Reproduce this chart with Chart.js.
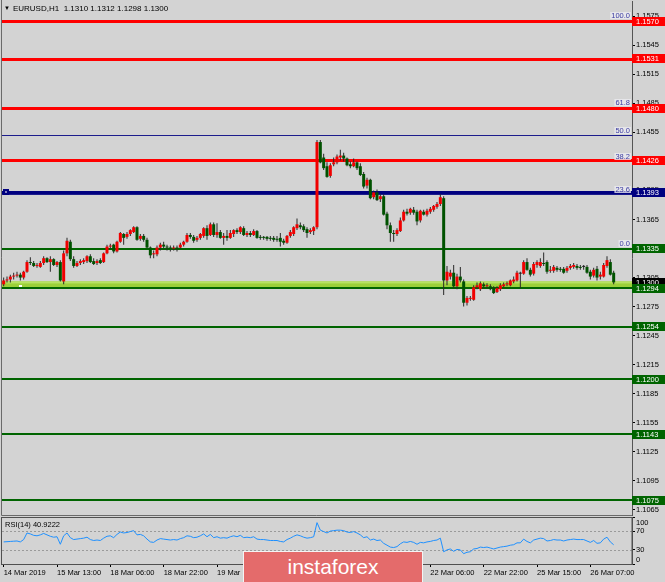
<!DOCTYPE html>
<html>
<head>
<meta charset="utf-8">
<script src="https://cdn.jsdelivr.net/npm/chart.js@4/dist/chart.umd.min.js"></script>
<style>
html,body{margin:0;padding:0;background:#d3d3d3;}
#wrap{position:relative;width:665px;height:582px;overflow:hidden;background:#d3d3d3;}
#c1{position:absolute;left:0;top:0;}
#c2{position:absolute;left:0;top:516px;}
#title{position:absolute;left:4px;top:3px;font:8px 'Liberation Sans',Arial,sans-serif;color:#000;white-space:pre;line-height:10px;}
#title .tri{font-size:6px;vertical-align:1px;margin-right:3px;}
#wm{position:absolute;left:243px;top:551px;width:178px;height:40px;background:#e46b6b;border:1px solid #f4f4f4;color:#fff;font:21px 'Liberation Sans',Arial,sans-serif;text-align:center;line-height:30px;}
</style>
</head>
<body>
<div id="wrap">
<canvas id="c1" width="665" height="516"></canvas>
<canvas id="c2" width="665" height="66"></canvas>
<div id="title"><span class="tri">▼</span>EURUSD,H1  1.1310 1.1312 1.1298 1.1300</div>
<div id="wm">instaforex</div>
</div>
<script>
// ---------- data ----------
const opens = [
1.1298,1.1302,1.1303,1.1306,1.1307,1.1308,1.1305,1.1311,1.1321,1.1320,
1.1317,1.1316,1.1320,1.1325,1.1321,1.1324,1.1318,1.1321,1.1301,1.1330,
1.1342,1.1324,1.1317,1.1320,1.1321,1.1322,1.1327,1.1322,1.1320,1.1323,
1.1321,1.1330,1.1337,1.1339,1.1332,1.1342,1.1350,1.1347,1.1350,1.1352,
1.1357,1.1345,1.1348,1.1344,1.1336,1.1329,1.1329,1.1336,1.1339,1.1337,
1.1336,1.1335,1.1336,1.1336,1.1339,1.1342,1.1349,1.1347,1.1344,1.1346,
1.1348,1.1356,1.1349,1.1360,1.1349,1.1352,1.1346,1.1348,1.1346,1.1350,
1.1354,1.1352,1.1356,1.1349,1.1351,1.1349,1.1353,1.1347,1.1347,1.1347,
1.1346,1.1346,1.1345,1.1346,1.1343,1.1341,1.1348,1.1350,1.1356,1.1359,
1.1358,1.1355,1.1352,1.1353,1.1357,1.1445,1.1429,1.1420,1.1410,1.1422,
1.1424,1.1429,1.1431,1.1428,1.1422,1.1420,1.1424,1.1420,1.1412,1.1400,
1.1406,1.1388,1.1393,1.1386,1.1389,1.1371,1.1359,1.1351,1.1350,1.1353,
1.1364,1.1373,1.1372,1.1375,1.1373,1.1364,1.1373,1.1370,1.1373,1.1375,
1.1378,1.1381,1.1387,1.1302,1.1306,1.1310,1.1296,1.1306,1.1301,1.1279,
1.1283,1.1282,1.1295,1.1293,1.1298,1.1296,1.1296,1.1294,1.1290,1.1293,
1.1296,1.1298,1.1297,1.1301,1.1302,1.1309,1.1309,1.1321,1.1313,1.1309,
1.1318,1.1317,1.1320,1.1321,1.1312,1.1312,1.1315,1.1314,1.1314,1.1312,
1.1315,1.1316,1.1317,1.1316,1.1316,1.1316,1.1311,1.1307,1.1314,1.1306,
1.1306,1.1317,1.1321,1.1310];
const highs = [
1.1305,1.1306,1.1308,1.1310,1.1311,1.1310,1.1312,1.1323,1.1326,1.1322,
1.1320,1.1322,1.1327,1.1326,1.1327,1.1325,1.1322,1.1323,1.1333,1.1346,
1.1344,1.1327,1.1322,1.1324,1.1325,1.1328,1.1329,1.1325,1.1324,1.1325,
1.1331,1.1339,1.1340,1.1340,1.1343,1.1352,1.1351,1.1352,1.1355,1.1358,
1.1358,1.1350,1.1350,1.1346,1.1337,1.1333,1.1338,1.1341,1.1342,1.1339,
1.1338,1.1338,1.1338,1.1341,1.1343,1.1351,1.1351,1.1349,1.1348,1.1351,
1.1357,1.1359,1.1362,1.1362,1.1361,1.1354,1.1351,1.1354,1.1354,1.1355,
1.1356,1.1358,1.1358,1.1353,1.1353,1.1355,1.1354,1.1349,1.1348,1.1348,
1.1348,1.1348,1.1348,1.1351,1.1345,1.1349,1.1354,1.1358,1.1366,1.1362,
1.1360,1.1357,1.1356,1.1358,1.1447,1.1447,1.1433,1.1424,1.1423,1.1429,
1.1432,1.1437,1.1434,1.1429,1.1425,1.1428,1.1425,1.1423,1.1414,1.1408,
1.1407,1.1395,1.1396,1.1391,1.1391,1.1373,1.1362,1.1354,1.1356,1.1367,
1.1375,1.1376,1.1377,1.1378,1.1375,1.1375,1.1375,1.1376,1.1378,1.1380,
1.1383,1.1391,1.1389,1.1317,1.1313,1.1318,1.1309,1.1316,1.1303,1.1286,
1.1286,1.1297,1.1300,1.1301,1.1300,1.1299,1.1298,1.1296,1.1296,1.1299,
1.1300,1.1301,1.1303,1.1306,1.1312,1.1311,1.1323,1.1325,1.1315,1.1321,
1.1323,1.1325,1.1331,1.1323,1.1317,1.1318,1.1317,1.1316,1.1316,1.1317,
1.1319,1.1320,1.1319,1.1318,1.1318,1.1318,1.1313,1.1315,1.1317,1.1311,
1.1320,1.1327,1.1324,1.1312];
const lows = [
1.1296,1.1300,1.1300,1.1303,1.1305,1.1302,1.1303,1.1310,1.1318,1.1316,
1.1315,1.1315,1.1318,1.1320,1.1311,1.1317,1.1316,1.1301,1.1298,1.1327,
1.1322,1.1315,1.1316,1.1318,1.1319,1.1320,1.1320,1.1318,1.1318,1.1319,
1.1320,1.1329,1.1335,1.1330,1.1331,1.1341,1.1339,1.1345,1.1348,1.1351,
1.1343,1.1343,1.1342,1.1335,1.1325,1.1325,1.1327,1.1333,1.1335,1.1333,
1.1332,1.1333,1.1332,1.1335,1.1337,1.1341,1.1345,1.1341,1.1342,1.1344,
1.1346,1.1344,1.1348,1.1347,1.1346,1.1345,1.1339,1.1343,1.1345,1.1347,
1.1350,1.1350,1.1348,1.1347,1.1347,1.1348,1.1345,1.1344,1.1344,1.1343,
1.1343,1.1342,1.1342,1.1337,1.1339,1.1340,1.1346,1.1348,1.1354,1.1355,
1.1352,1.1346,1.1350,1.1349,1.1355,1.1423,1.1416,1.1408,1.1408,1.1420,
1.1422,1.1426,1.1425,1.1420,1.1418,1.1419,1.1416,1.1410,1.1397,1.1397,
1.1386,1.1386,1.1384,1.1383,1.1369,1.1355,1.1342,1.1342,1.1348,1.1352,
1.1363,1.1369,1.1370,1.1370,1.1359,1.1362,1.1369,1.1368,1.1371,1.1373,
1.1376,1.1379,1.1287,1.1297,1.1303,1.1294,1.1293,1.1300,1.1275,1.1276,
1.1281,1.1281,1.1293,1.1291,1.1294,1.1294,1.1292,1.1288,1.1289,1.1291,
1.1295,1.1296,1.1296,1.1299,1.1301,1.1294,1.1308,1.1312,1.1306,1.1307,
1.1315,1.1315,1.1317,1.1309,1.1310,1.1310,1.1311,1.1311,1.1309,1.1310,
1.1313,1.1314,1.1313,1.1313,1.1313,1.1309,1.1303,1.1305,1.1302,1.1303,
1.1305,1.1315,1.1307,1.1298];
const closes = [
1.1302,1.1303,1.1306,1.1307,1.1308,1.1305,1.1311,1.1321,1.1320,1.1317,
1.1318,1.1320,1.1325,1.1321,1.1324,1.1318,1.1321,1.1302,1.1330,1.1343,
1.1324,1.1317,1.1320,1.1322,1.1323,1.1327,1.1321,1.1319,1.1322,1.1320,
1.1330,1.1337,1.1338,1.1332,1.1342,1.1351,1.1346,1.1350,1.1354,1.1357,
1.1344,1.1348,1.1344,1.1336,1.1328,1.1330,1.1336,1.1339,1.1337,1.1336,
1.1335,1.1336,1.1335,1.1339,1.1342,1.1349,1.1347,1.1343,1.1346,1.1350,
1.1356,1.1348,1.1360,1.1349,1.1352,1.1346,1.1348,1.1346,1.1351,1.1354,
1.1352,1.1357,1.1349,1.1351,1.1349,1.1353,1.1346,1.1346,1.1346,1.1345,
1.1345,1.1344,1.1344,1.1342,1.1341,1.1348,1.1352,1.1357,1.1360,1.1357,
1.1354,1.1351,1.1354,1.1357,1.1445,1.1424,1.1418,1.1409,1.1421,1.1424,
1.1430,1.1431,1.1428,1.1421,1.1420,1.1424,1.1418,1.1411,1.1399,1.1406,
1.1387,1.1393,1.1385,1.1389,1.1370,1.1359,1.1351,1.1350,1.1354,1.1364,
1.1373,1.1371,1.1376,1.1372,1.1363,1.1374,1.1370,1.1374,1.1376,1.1379,
1.1381,1.1388,1.1302,1.1311,1.1310,1.1296,1.1306,1.1302,1.1279,1.1284,
1.1284,1.1295,1.1297,1.1299,1.1296,1.1297,1.1293,1.1289,1.1294,1.1297,
1.1298,1.1299,1.1302,1.1303,1.1310,1.1309,1.1321,1.1313,1.1308,1.1319,
1.1321,1.1321,1.1319,1.1311,1.1313,1.1316,1.1313,1.1313,1.1310,1.1315,
1.1317,1.1318,1.1315,1.1315,1.1316,1.1310,1.1306,1.1313,1.1305,1.1308,
1.1318,1.1323,1.1308,1.1300];
const rsi = [
47,47.5,48,48.5,49,47,52,66,64,61,
60,62,65,62,59,57,58,42,60,66,
56,52,53,54,55,57,52,50,51,50,
55,59,60,56,63,68,66,67,69,71,
62,63,60,53,47,46,51,54,53,52,
51,52,51,54,56,60,59,56,57,60,
64,58,63,56,58,55,56,55,58,60,
58,61,56,57,56,58,53,52,52,51,
50,50,50,48,47,52,55,59,62,60,
57,55,56,58,88,72,69,66,70,71,
72,72,71,68,67,69,66,62,56,58,
51,53,50,51,44,40,36,35,37,43,
47,46,48,46,42,46,45,47,48,50,
51,55,26,30,32,27,31,30,22,25,
26,32,33,36,35,36,34,32,34,36,
37,38,40,41,45,45,53,48,45,51,
53,55,54,49,50,52,51,51,49,51,
52,53,52,52,52,49,46,50,44,45,
53,57,47,40.9222];

const tickLabels = ['14 Mar 2019','15 Mar 13:00','18 Mar 06:00','18 Mar 22:00','19 Mar 14:00','20 Mar 06:00',
  '20 Mar 22:00','21 Mar 14:00','22 Mar 06:00','22 Mar 22:00','25 Mar 15:00','26 Mar 07:00'];
const priceTicks = [1.1575,1.1545,1.1515,1.1485,1.1455,1.1425,1.1395,1.1365,1.1335,1.1305,1.1275,1.1245,1.1215,1.1185,1.1155,1.1125,1.1095,1.1065];
const rsiTicks = [0,30,70,100];
const rsiLevels = [30,70];
const redLevels = [1.1570,1.1531,1.1480,1.1426];
const navyLevels = [1.1393];
const greenLevels = [1.1335,1.1294,1.1254,1.1200,1.1143,1.1075];
const bidPrice = 1.1300;
const bandRange = [1.1294,1.1301];
const fibLabels = ['0.0','23.6','38.2','50.0','61.8','100.0'];
const fibPrices = [1.1336,1.1391,1.1425,1.1452,1.1481,1.1571];
const rsiTitle = 'RSI(14) 40.9222';

// ---------- setup ----------
const FONT = "'Liberation Sans', Arial, sans-serif";
Chart.defaults.font.family = FONT;
Chart.defaults.font.size = 7.5;
Chart.defaults.color = '#000';
const SLOTS = 189;
const slots = Array.from({length: SLOTS}, (_, i) => i);
const BULL = '#f00000', BEAR = '#005200', DOJI = '#202020';
const bodyColors = opens.map((o, i) => closes[i] > o ? BULL : (closes[i] < o ? BEAR : DOJI));

function hline(ctx, a, py, color, w) {
  ctx.strokeStyle = color; ctx.lineWidth = w;
  const yy = (w % 2 === 1) ? Math.round(py) + 0.5 : Math.round(py);
  ctx.beginPath(); ctx.moveTo(a.left, yy); ctx.lineTo(a.right, yy); ctx.stroke();
}
function priceBox(ctx, a, py, bg, text) {
  const h = 9;
  const top = Math.round(py - h / 2);
  ctx.fillStyle = bg;
  ctx.fillRect(a.right, top, 665 - a.right, h);
  ctx.fillStyle = '#fff';
  ctx.font = '7.5px ' + FONT;
  ctx.textAlign = 'left'; ctx.textBaseline = 'middle';
  ctx.fillText(text, a.right + 4, top + h / 2 + 0.5);
}

const mainDecor = {
  id: 'mainDecor',
  beforeDatasetsDraw(chart) {
    const {ctx, chartArea: a, scales: {y}} = chart;
    ctx.save();
    const bt = y.getPixelForValue(bandRange[1]), bb = y.getPixelForValue(bandRange[0]);
    ctx.fillStyle = '#9bd03a';
    ctx.fillRect(a.left, bt, a.right - a.left, bb - bt);
    ctx.fillStyle = '#b7e264';
    ctx.fillRect(a.left, bt, a.right - a.left, 2);
    fibPrices.forEach(p => hline(ctx, a, y.getPixelForValue(p), '#1c1c8c', 1));
    redLevels.forEach(p => hline(ctx, a, y.getPixelForValue(p), '#ff0000', 3));
    navyLevels.forEach(p => hline(ctx, a, y.getPixelForValue(p), '#000080', 3));
    greenLevels.forEach(p => hline(ctx, a, y.getPixelForValue(p), '#006400', 2));
    ctx.fillStyle = '#ffffff';
    ctx.fillRect(a.left + 17, Math.round(bb) - 3, 3, 2);
    ctx.restore();
  },
  afterDraw(chart) {
    const {ctx, chartArea: a, scales: {y}} = chart;
    ctx.save();
    ctx.strokeStyle = '#6a6a6a'; ctx.lineWidth = 1;
    ctx.beginPath();
    ctx.moveTo(a.left - 0.5, 0); ctx.lineTo(a.left - 0.5, a.bottom + 0.5);
    ctx.lineTo(a.right, a.bottom + 0.5);
    ctx.stroke();
    ctx.font = '7.5px ' + FONT;
    ctx.textAlign = 'right'; ctx.textBaseline = 'bottom';
    fibLabels.forEach((t, i) => {
      const py = Math.round(y.getPixelForValue(fibPrices[i]));
      const w = ctx.measureText(t).width;
      ctx.fillStyle = 'rgba(235,235,240,0.8)';
      ctx.fillRect(a.right - 2 - w - 1, py - 8, w + 2, 7);
      ctx.fillStyle = '#3a3aa0';
      ctx.fillText(t, a.right - 2, py);
    });
    const ny = Math.round(y.getPixelForValue(navyLevels[0]));
    ctx.fillStyle = '#000080';
    ctx.fillRect(a.left + 1, ny - 3, 6, 6);
    ctx.fillStyle = '#8080c0';
    ctx.fillRect(a.left + 3, ny - 1, 2, 2);
    redLevels.forEach(p => priceBox(ctx, a, y.getPixelForValue(p), '#ff0000', p.toFixed(4)));
    navyLevels.forEach(p => priceBox(ctx, a, y.getPixelForValue(p), '#000080', p.toFixed(4)));
    priceBox(ctx, a, y.getPixelForValue(bidPrice), '#000000', bidPrice.toFixed(4));
    greenLevels.forEach(p => priceBox(ctx, a, y.getPixelForValue(p), '#006400', p.toFixed(4)));
    ctx.restore();
  }
};

new Chart(document.getElementById('c1'), {
  type: 'bar',
  data: {
    labels: slots,
    datasets: [
      {data: opens.map((o, i) => [o, closes[i]]), backgroundColor: bodyColors, barThickness: 3,
       grouped: false, minBarLength: 1, inflateAmount: 0, borderWidth: 0},
      {data: lows.map((l, i) => [l, highs[i]]), backgroundColor: '#282828', barThickness: 1,
       grouped: false, inflateAmount: 0, borderWidth: 0}
    ]
  },
  options: {
    responsive: false, animation: false, devicePixelRatio: 1,
    layout: {padding: {left: 2, top: 1, right: 0, bottom: 1}},
    plugins: {legend: {display: false}, tooltip: {enabled: false}},
    scales: {
      x: {display: false, offset: true},
      y: {
        position: 'right', min: 1.10597, max: 1.15907, bounds: 'data', beginAtZero: false,
        afterFit(s) { s.width = 33; s.paddingTop = 0; s.paddingBottom = 0; },
        afterBuildTicks(s) { s.ticks = priceTicks.map(v => ({value: v})); },
        ticks: {callback: v => Number(v).toFixed(4), color: '#000', padding: 1, autoSkip: false, font: {size: 7.5}},
        grid: {drawOnChartArea: false, drawTicks: true, tickLength: 3, color: '#000'},
        border: {display: true, color: '#555', width: 1}
      }
    }
  },
  plugins: [mainDecor]
});

const rsiDecor = {
  id: 'rsiDecor',
  beforeDatasetsDraw(chart) {
    const {ctx, chartArea: a, scales: {y}} = chart;
    ctx.save();
    ctx.strokeStyle = '#9a9a9a'; ctx.lineWidth = 1; ctx.setLineDash([2, 2]);
    rsiLevels.forEach(v => {
      const py = Math.round(y.getPixelForValue(v)) + 0.5;
      ctx.beginPath(); ctx.moveTo(a.left, py); ctx.lineTo(a.right, py); ctx.stroke();
    });
    ctx.restore();
  },
  afterDraw(chart) {
    const {ctx, chartArea: a, scales: {y}} = chart;
    ctx.save();
    ctx.strokeStyle = '#505050'; ctx.lineWidth = 1;
    ctx.strokeRect(a.left - 0.5, a.top + 0.5, a.right - a.left + 0.5, a.bottom - a.top);
    ctx.font = '7.5px ' + FONT;
    ctx.fillStyle = '#000';
    ctx.textAlign = 'left'; ctx.textBaseline = 'middle';
    ctx.fillText(rsiTitle, a.left + 3, a.top + 8);
    rsiTicks.forEach(v => {
      let py = y.getPixelForValue(v);
      py = Math.min(Math.max(py, a.top + 6), a.bottom - 4);
      ctx.fillText(String(v), a.right + 4, py);
    });
    ctx.restore();
  }
};

new Chart(document.getElementById('c2'), {
  type: 'line',
  data: {
    labels: slots,
    datasets: [{data: rsi, borderColor: '#1e90ff', borderWidth: 1, pointRadius: 0, tension: 0, fill: false}]
  },
  options: {
    responsive: false, animation: false, devicePixelRatio: 1,
    layout: {padding: {left: 2, top: 1, right: 0, bottom: 0}},
    plugins: {legend: {display: false}, tooltip: {enabled: false}},
    scales: {
      x: {
        offset: true,
        afterFit(s) { s.height = 18; },
        afterBuildTicks(s) { s.ticks = s.ticks.filter(t => t.value % 16 === 0); },
        ticks: {autoSkip: false, maxRotation: 0, minRotation: 0, align: 'start', color: '#000', padding: 1,
                font: {size: 7.5}, callback: v => tickLabels[v / 16] || ''},
        grid: {drawOnChartArea: false, drawTicks: true, tickLength: 3, color: '#000', offset: false},
        border: {display: true, color: '#505050'}
      },
      y: {
        position: 'right', min: 0, max: 100, bounds: 'data',
        afterFit(s) { s.width = 33; s.paddingTop = 0; s.paddingBottom = 0; },
        afterBuildTicks(s) { s.ticks = rsiTicks.map(v => ({value: v})); },
        ticks: {display: false},
        grid: {drawOnChartArea: false, drawTicks: true, tickLength: 3, color: '#000'},
        border: {display: true, color: '#505050'}
      }
    }
  },
  plugins: [rsiDecor]
});
</script>
</body>
</html>
